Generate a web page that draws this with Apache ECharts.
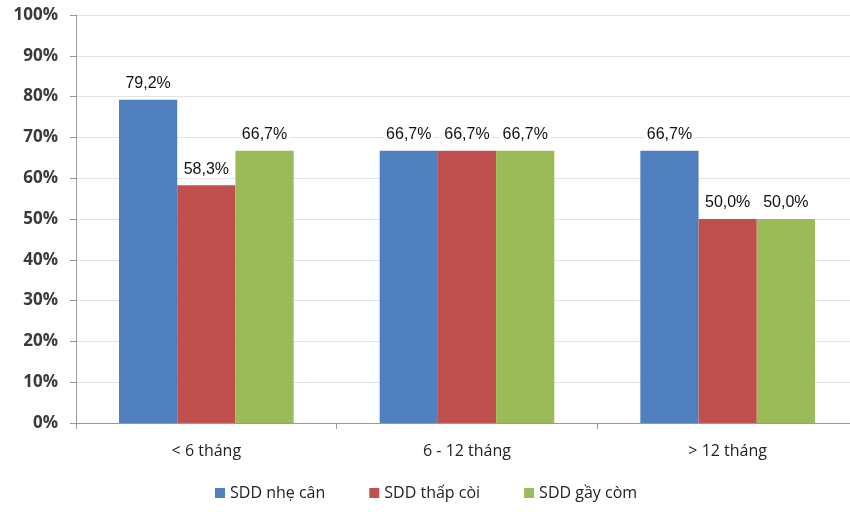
<!DOCTYPE html>
<html><head><meta charset="utf-8">
<script src="https://cdn.jsdelivr.net/npm/echarts@6/dist/echarts.min.js"></script>
<style>html,body{margin:0;padding:0;background:#fff;overflow:hidden}#c{width:870px;height:512px}</style>
</head><body><div id="c"></div>
<script>
const categories = ['< 6 tháng', '6 - 12 tháng', '> 12 tháng'];
const seriesNames = ['SDD nhẹ cân', 'SDD thấp còi', 'SDD gầy còm'];
const nheCan = [79.2, 66.7, 66.7];
const thapCoi = [58.3, 66.7, 50.0];
const gayCom = [66.7, 66.7, 50.0];
const colors = ['#4F7FBD', '#C0504D', '#9BBB59'];

const chart = echarts.init(document.getElementById('c'));
const fmt = v => v.toFixed(1).replace('.', ',') + '%';
const mk = (name, data, color) => ({
  name, type: 'bar', data, barGap: '0%', barCategoryGap: '33%',
  itemStyle: { color },
  label: { show: true, position: 'top', distance: 7, formatter: p => fmt(p.value),
    color: '#111', fontFamily: 'Liberation Sans', fontSize: 16, backgroundColor: '#fff', padding: [1, 2] }
});
chart.setOption({
  animation: false,
  grid: { left: 76, right: 12, top: 15, bottom: 89 },
  legend: { bottom: 6, left: 210, itemWidth: 10, itemHeight: 10, itemGap: 44,
    icon: 'rect', textStyle: { fontFamily: 'Open Sans', fontSize: 16, color: '#222' } },
  xAxis: { type: 'category', data: categories,
    axisLine: { lineStyle: { color: '#999' } },
    axisTick: { show: true, length: 6, lineStyle: { color: '#999' } },
    axisLabel: { fontFamily: 'Open Sans', fontSize: 16, color: '#222', margin: 20 } },
  yAxis: { type: 'value', min: 0, max: 100, interval: 10,
    axisLine: { show: true, lineStyle: { color: '#999' } },
    axisTick: { show: true, length: 6, lineStyle: { color: '#999' } },
    splitLine: { lineStyle: { color: '#e2e2e2' } },
    axisLabel: { formatter: '{value}%', fontFamily: 'Open Sans', fontWeight: 'bold', fontSize: 17, color: '#3a3a3a', margin: 18 } },
  series: [mk(seriesNames[0], nheCan, colors[0]), mk(seriesNames[1], thapCoi, colors[1]), mk(seriesNames[2], gayCom, colors[2])]
});
</script></body></html>
